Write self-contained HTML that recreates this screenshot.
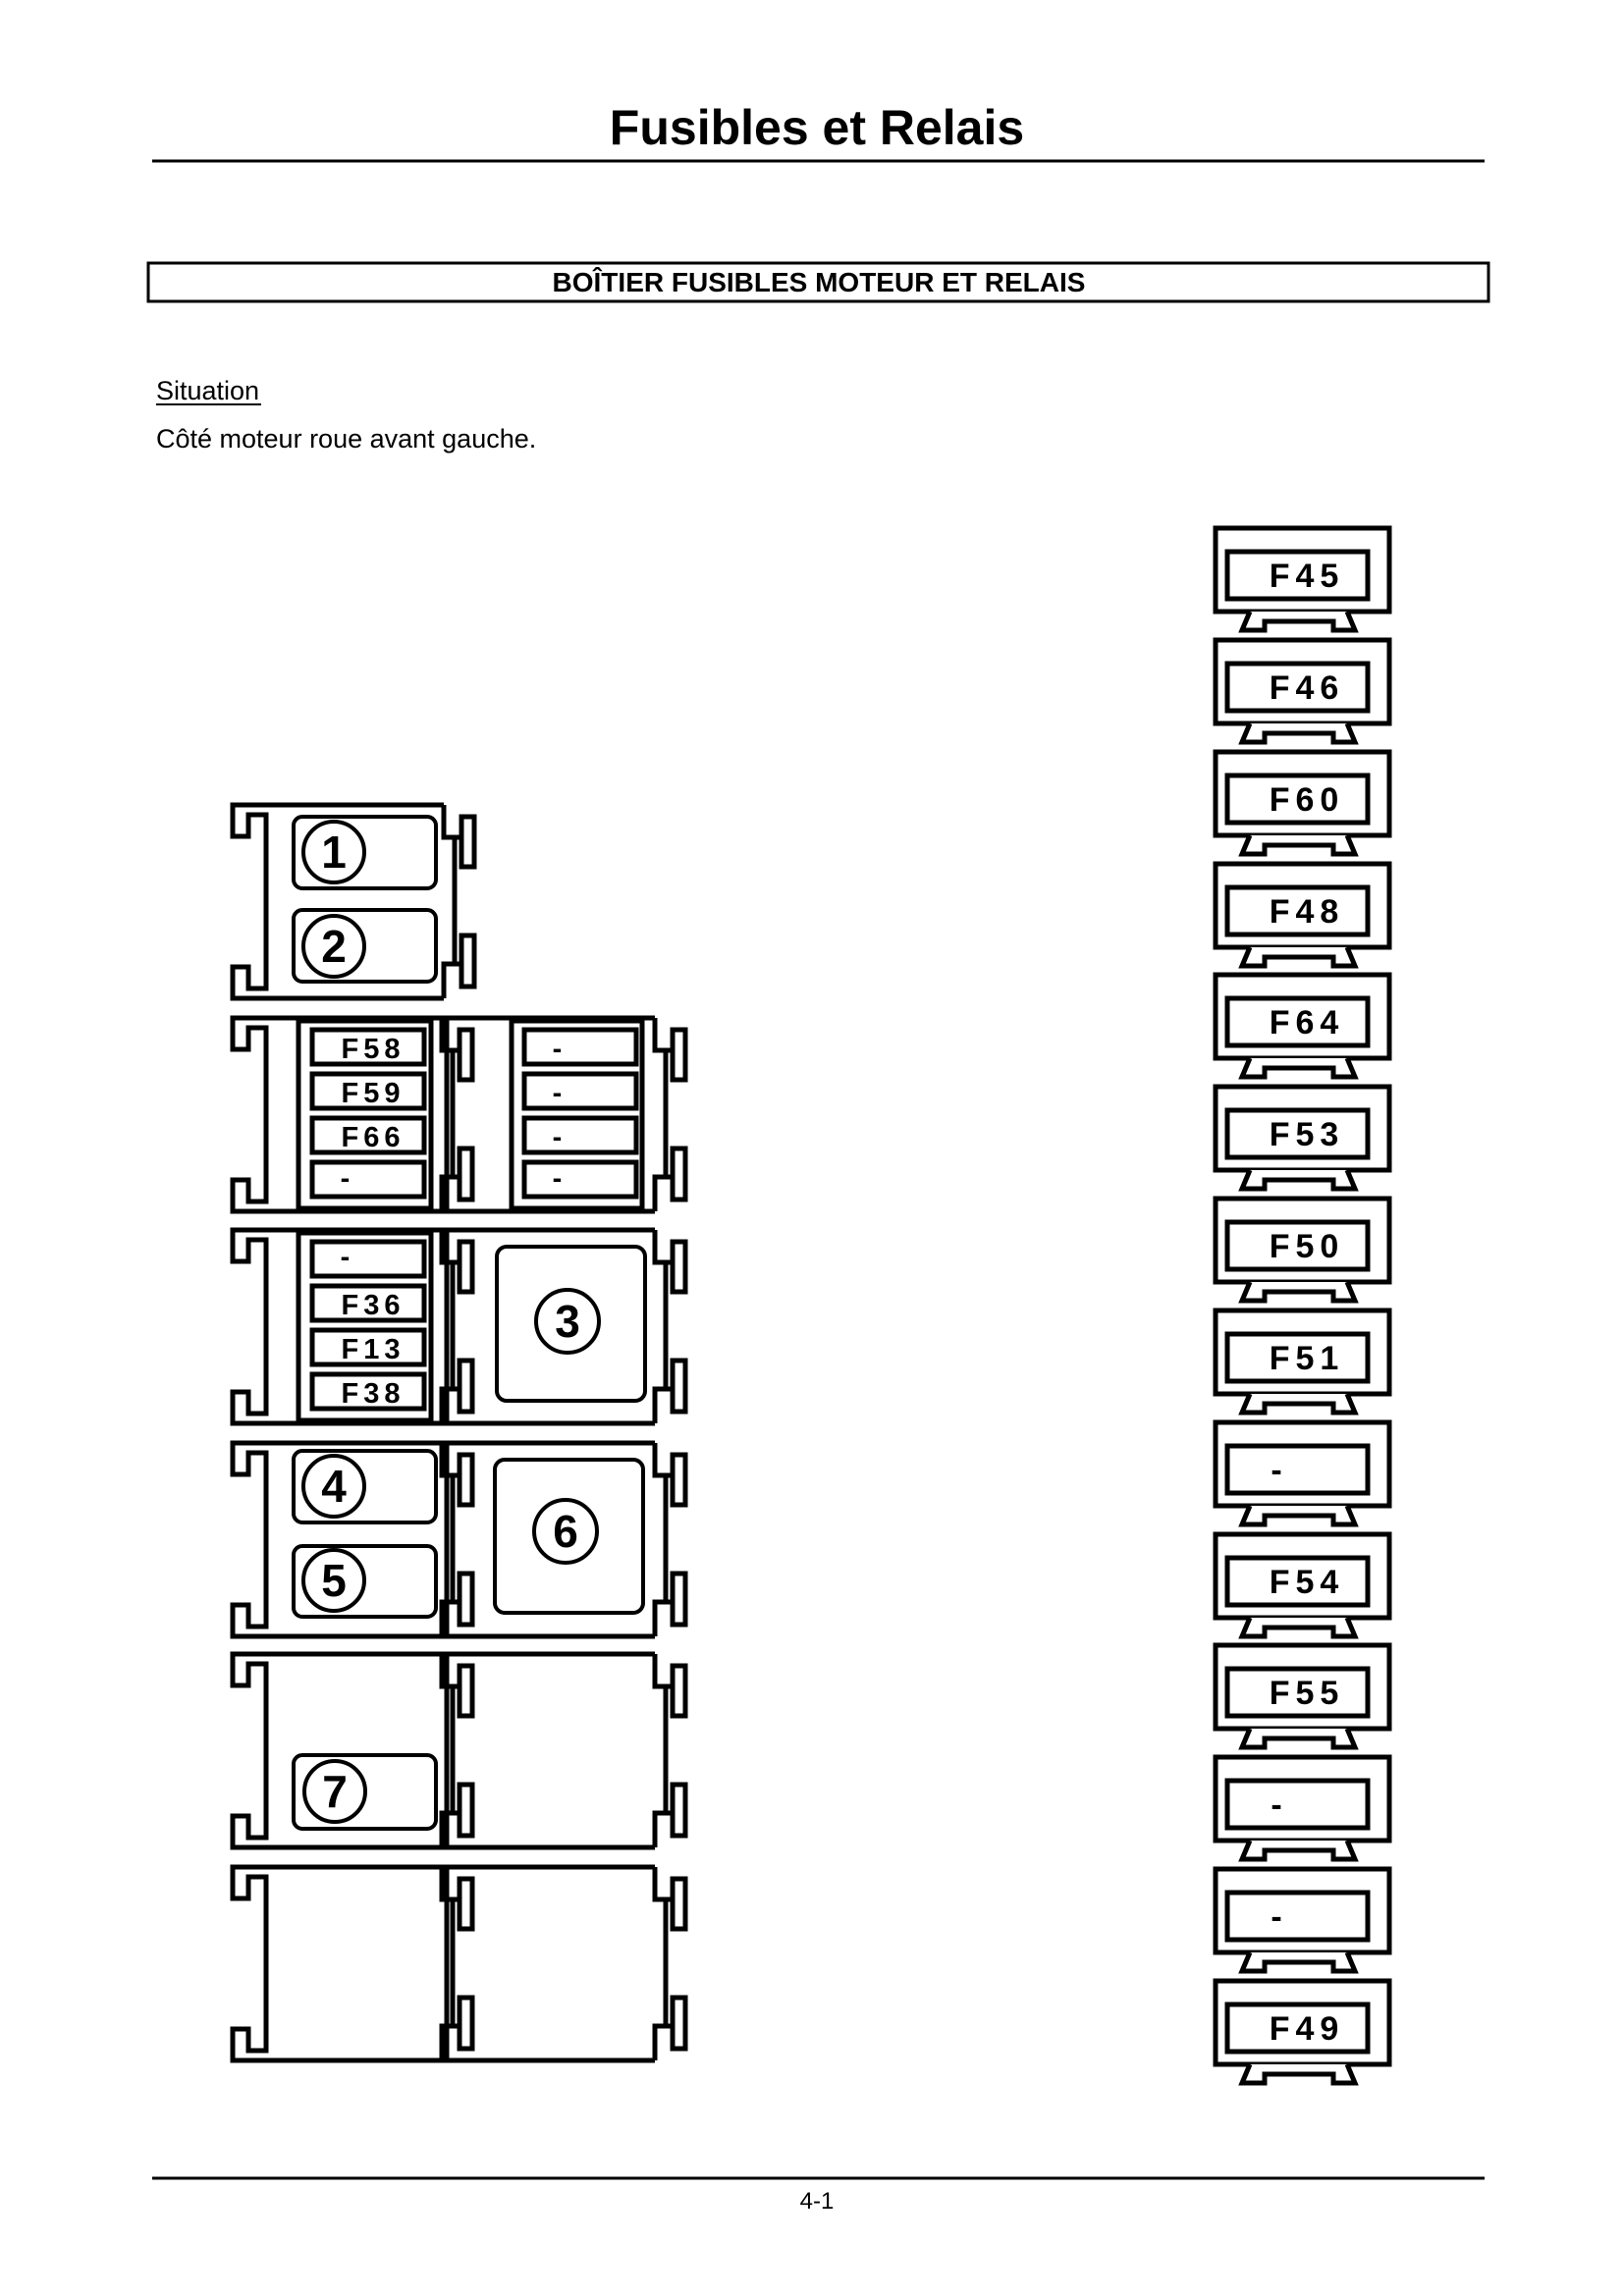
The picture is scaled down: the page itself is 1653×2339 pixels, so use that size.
<!DOCTYPE html>
<html><head><meta charset="utf-8"><style>
html,body{margin:0;padding:0;background:#fff}
svg{display:block}
text{font-family:"Liberation Sans",Arial,sans-serif}
</style></head><body>
<svg width="1653" height="2339" viewBox="0 0 1653 2339" xmlns="http://www.w3.org/2000/svg">
<defs>
<g id="lcell" fill="none" stroke="#000" stroke-width="5">
<path d="M215,0 H0 V32 H16 V10 H34 V187 H16 V165 H0 V197 H215"/>
</g>
<g id="rfeat" fill="none" stroke="#000" stroke-width="5">
<path d="M0,0 V33 H18"/><path d="M0,197 V162 H18"/>
<path d="M11,32 V163"/>
<rect x="18" y="12" width="13" height="51"/>
<rect x="18" y="133" width="13" height="52"/>
</g>
<g id="fuse" fill="none" stroke="#000" stroke-width="5">
<rect x="0" y="0" width="177" height="85"/>
<rect x="12" y="24" width="143" height="48"/>
<path d="M35,85 L27,104 H50 V95 H120 V104 H142 L134,85" fill="#fff"/>
</g>
</defs>

<text x="832" y="147" font-size="50" font-weight="bold" text-anchor="middle">Fusibles et Relais</text>
<line x1="155" y1="164" x2="1512" y2="164" stroke="#000" stroke-width="3"/>
<rect x="151" y="268" width="1365" height="39" fill="none" stroke="#000" stroke-width="3"/>
<text x="834" y="297" font-size="28" font-weight="bold" text-anchor="middle">BOÎTIER FUSIBLES MOTEUR ET RELAIS</text>
<text x="159" y="407" font-size="27">Situation</text>
<line x1="159" y1="412" x2="266" y2="412" stroke="#000" stroke-width="2"/>
<text x="159" y="456" font-size="27">Côté moteur roue avant gauche.</text>

<!-- Row1 -->
<use href="#lcell" x="237" y="820"/><use href="#rfeat" x="452" y="820"/>
<g fill="none" stroke="#000" stroke-width="4">
<rect x="299" y="832" width="145" height="73" rx="9"/>
<rect x="299" y="927" width="145" height="73" rx="9"/>
<circle cx="340" cy="868" r="31"/><circle cx="340" cy="964" r="31"/>
</g>
<g font-size="46" font-weight="bold" text-anchor="middle">
<text x="340" y="884">1</text><text x="340" y="980">2</text></g>

<g>
<use href="#lcell" x="237" y="1037"/><use href="#rfeat" x="450" y="1037"/><use href="#rfeat" x="667" y="1037"/>
<use href="#lcell" x="237" y="1253"/><use href="#rfeat" x="450" y="1253"/><use href="#rfeat" x="667" y="1253"/>
<use href="#lcell" x="237" y="1470"/><use href="#rfeat" x="450" y="1470"/><use href="#rfeat" x="667" y="1470"/>
<use href="#lcell" x="237" y="1685"/><use href="#rfeat" x="450" y="1685"/><use href="#rfeat" x="667" y="1685"/>
<use href="#lcell" x="237" y="1902"/><use href="#rfeat" x="450" y="1902"/><use href="#rfeat" x="667" y="1902"/>
</g>
<g fill="none" stroke="#000" stroke-width="5">
<path d="M452,1037 H667 M452,1234 H667 M455,1037 V1234"/>
<path d="M452,1253 H667 M452,1450 H667 M455,1253 V1450"/>
<path d="M452,1470 H667 M452,1667 H667 M455,1470 V1667"/>
<path d="M452,1685 H667 M452,1882 H667 M455,1685 V1882"/>
<path d="M452,1902 H667 M452,2099 H667 M455,1902 V2099"/>
<rect x="304" y="1040" width="135" height="191"/>
<rect x="521" y="1040" width="133" height="191"/>
<rect x="304" y="1256" width="135" height="191"/>
</g>
<g fill="none" stroke="#000" stroke-width="5">
<rect x="318" y="1049" width="114" height="35"/><rect x="318" y="1094" width="114" height="35"/>
<rect x="318" y="1139" width="114" height="35"/><rect x="318" y="1184" width="114" height="35"/>
<rect x="534" y="1049" width="114" height="35"/><rect x="534" y="1094" width="114" height="35"/>
<rect x="534" y="1139" width="114" height="35"/><rect x="534" y="1184" width="114" height="35"/>
<rect x="318" y="1265" width="114" height="35"/><rect x="318" y="1310" width="114" height="35"/>
<rect x="318" y="1355" width="114" height="35"/><rect x="318" y="1400" width="114" height="35"/>
</g>
<g font-size="29" font-weight="bold" letter-spacing="5" text-anchor="middle">
<text x="380" y="1078">F58</text><text x="380" y="1123">F59</text><text x="380" y="1168">F66</text><text x="354" y="1210">-</text>
<text x="570" y="1078">-</text><text x="570" y="1123">-</text><text x="570" y="1168">-</text><text x="570" y="1210">-</text>
<text x="354" y="1290">-</text><text x="380" y="1339">F36</text><text x="380" y="1384">F13</text><text x="380" y="1429">F38</text>
</g>
<g fill="none" stroke="#000" stroke-width="4">
<rect x="506" y="1270" width="151" height="157" rx="10"/><circle cx="578" cy="1346" r="32"/>
<rect x="504" y="1487" width="151" height="156" rx="10"/><circle cx="576" cy="1560" r="32"/>
<rect x="299" y="1478" width="145" height="73" rx="9"/><circle cx="340" cy="1514" r="31"/>
<rect x="299" y="1575" width="145" height="72" rx="9"/><circle cx="340" cy="1610" r="31"/>
<rect x="299" y="1788" width="145" height="75" rx="9"/><circle cx="341" cy="1825" r="31"/>
</g>
<g font-size="46" font-weight="bold" text-anchor="middle">
<text x="578" y="1362">3</text><text x="576" y="1576">6</text>
<text x="340" y="1530">4</text><text x="340" y="1626">5</text><text x="341" y="1841">7</text>
</g>

<g>
<use href="#fuse" x="1238" y="538"/><use href="#fuse" x="1238" y="652"/><use href="#fuse" x="1238" y="766"/>
<use href="#fuse" x="1238" y="880"/><use href="#fuse" x="1238" y="993"/><use href="#fuse" x="1238" y="1107"/>
<use href="#fuse" x="1238" y="1221"/><use href="#fuse" x="1238" y="1335"/><use href="#fuse" x="1238" y="1449"/>
<use href="#fuse" x="1238" y="1563"/><use href="#fuse" x="1238" y="1676"/><use href="#fuse" x="1238" y="1790"/>
<use href="#fuse" x="1238" y="1904"/><use href="#fuse" x="1238" y="2018"/>
</g>
<g font-size="34" font-weight="bold" letter-spacing="6" text-anchor="middle">
<text x="1331" y="598">F45</text><text x="1331" y="712">F46</text><text x="1331" y="826">F60</text>
<text x="1331" y="940">F48</text><text x="1331" y="1053">F64</text><text x="1331" y="1167">F53</text>
<text x="1331" y="1281">F50</text><text x="1331" y="1395">F51</text><text x="1303" y="1509">-</text>
<text x="1331" y="1623">F54</text><text x="1331" y="1736">F55</text><text x="1303" y="1850">-</text>
<text x="1303" y="1964">-</text><text x="1331" y="2078">F49</text>
</g>

<line x1="155" y1="2219" x2="1512" y2="2219" stroke="#000" stroke-width="3"/>
<text x="832" y="2250" font-size="24" text-anchor="middle">4-1</text>
</svg>
</body></html>
